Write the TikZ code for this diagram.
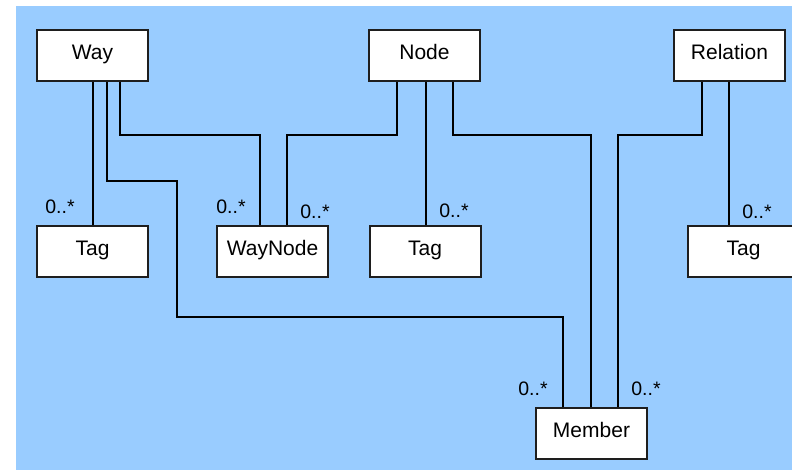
\documentclass[tikz,border=0pt]{standalone}
\usepackage{fontspec}
\setmainfont{Liberation Sans}
\usetikzlibrary{shadows}
\definecolor{canvas}{RGB}{153,204,255}
\definecolor{edge}{RGB}{30,30,30}
\tikzset{
  entity/.style={draw=edge, line width=2pt, fill=white, minimum width=111pt,
    minimum height=51pt, inner sep=0pt, font=\fontsize{21}{24}\selectfont,
    text height=12pt, text depth=4pt,
    drop shadow={opacity=0.35, shadow xshift=1.2pt, shadow yshift=-1.2pt}},
  link/.style={draw=black, line width=1.7pt},
  mult/.style={inner sep=0pt, font=\fontsize{19.5}{22}\selectfont}
}
\begin{document}
\begin{tikzpicture}[x=1pt, y=-1pt]
  \useasboundingbox (0,0) rectangle (792,470);
  \clip (0,0) rectangle (792,470);
  \fill[canvas] (16,6) rectangle (792,470);

  % classes
  \node[entity] (way)     at (92.5,55.5)   {Way};
  \node[entity] (nd)      at (424.5,55.5)  {Node};
  \node[entity] (rel)     at (729.5,55.5)  {Relation};
  \node[entity] (tagw)    at (92.5,251.5)  {Tag};
  \node[entity] (waynode) at (272.5,251.5) {WayNode};
  \node[entity] (tagn)    at (425,251.5)   {Tag};
  \node[entity] (tagr)    at (743.5,251.5) {Tag};
  \node[entity] (member)  at (591.5,433.5) {Member};

  % associations
  \draw[link] ([xshift=0.5pt]way.south) -- ([xshift=0.5pt]tagw.north);
  \draw[link] ([xshift=14.5pt]way.south) |- (177,181) |- (563,317)
              -- ([xshift=-28.5pt]member.north);
  \draw[link] ([xshift=27.5pt]way.south) |- (260,135)
              -- ([xshift=-12.5pt]waynode.north);
  \draw[link] ([xshift=-27.5pt]nd.south) |- (287,135)
              -- ([xshift=14.5pt]waynode.north);
  \draw[link] ([xshift=1.5pt]nd.south) -- ([xshift=1pt]tagn.north);
  \draw[link] ([xshift=28.5pt]nd.south) |- (591,135)
              -- ([xshift=-0.5pt]member.north);
  \draw[link] ([xshift=-27.5pt]rel.south) |- (618,135)
              -- ([xshift=26.5pt]member.north);
  \draw[link] ([xshift=-0.5pt]rel.south) -- ([xshift=-14.5pt]tagr.north);

  % multiplicities
  \node[mult] (m1) at (60,207)  {0..*};
  \node[mult] (m2) at (231,207) {0..*};
  \node[mult] (m3) at (315,212) {0..*};
  \node[mult] (m4) at (454,211) {0..*};
  \node[mult] (m5) at (757,212) {0..*};
  \node[mult] (m6) at (533,389) {0..*};
  \node[mult] (m7) at (646,389) {0..*};
\end{tikzpicture}
\end{document}
